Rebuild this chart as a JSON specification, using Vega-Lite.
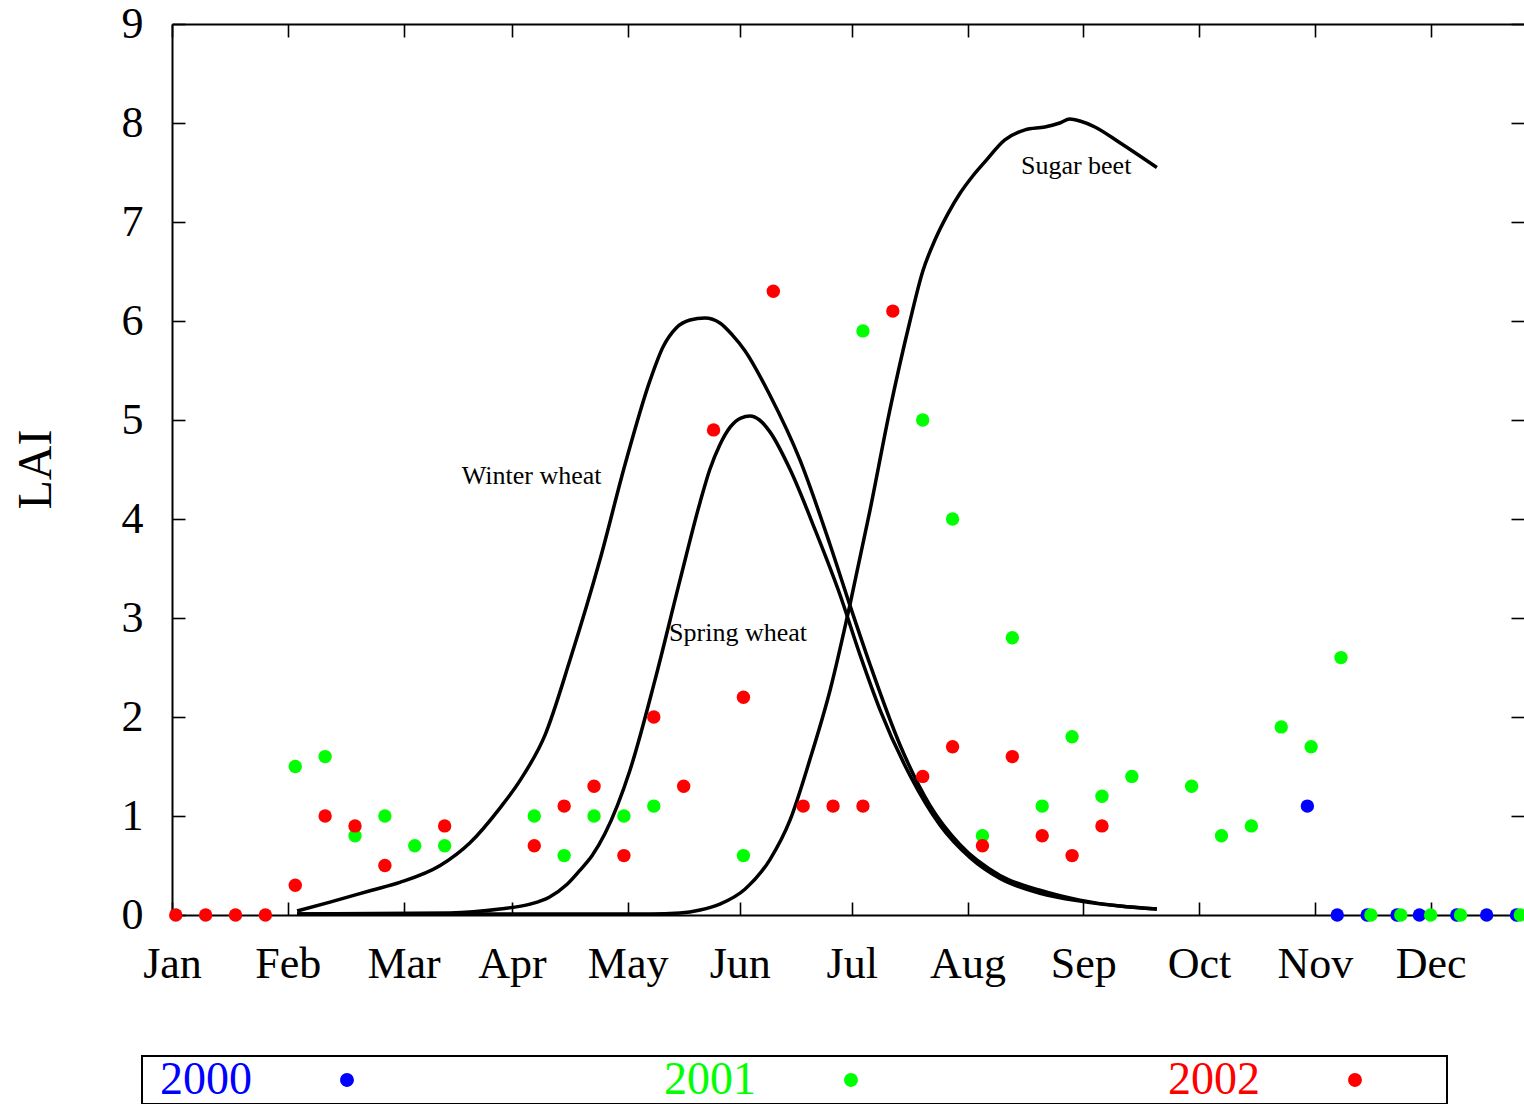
{
  "$schema": "https://vega.github.io/schema/vega-lite/v6.json",
  "autosize": {"type": "none"},
  "width": 1352,
  "height": 891,
  "padding": {"left": 172, "top": 24, "right": 0, "bottom": 189},
  "background": "white",
  "config": {
    "view": {"stroke": null},
    "font": "Liberation Serif",
    "axis": {"grid": false, "domainColor": "black", "domainWidth": 2, "tickColor": "black", "tickWidth": 1.6, "labelColor": "black", "titleColor": "black"},
    "legend": {"strokeWidth": 2}
  },
  "datasets": {
    "curves": [
      {"crop": "Winter wheat", "doy": 33.5, "lai": 0.04},
      {"crop": "Winter wheat", "doy": 42.3, "lai": 0.13},
      {"crop": "Winter wheat", "doy": 53.5, "lai": 0.25},
      {"crop": "Winter wheat", "doy": 61.0, "lai": 0.33},
      {"crop": "Winter wheat", "doy": 71.8, "lai": 0.5},
      {"crop": "Winter wheat", "doy": 79.8, "lai": 0.73},
      {"crop": "Winter wheat", "doy": 87.8, "lai": 1.08},
      {"crop": "Winter wheat", "doy": 93.2, "lai": 1.36},
      {"crop": "Winter wheat", "doy": 99.9, "lai": 1.82},
      {"crop": "Winter wheat", "doy": 106.6, "lai": 2.58},
      {"crop": "Winter wheat", "doy": 114.6, "lai": 3.59},
      {"crop": "Winter wheat", "doy": 121.3, "lai": 4.55},
      {"crop": "Winter wheat", "doy": 128.0, "lai": 5.4},
      {"crop": "Winter wheat", "doy": 131.5, "lai": 5.74},
      {"crop": "Winter wheat", "doy": 135.0, "lai": 5.93},
      {"crop": "Winter wheat", "doy": 138.7, "lai": 6.01},
      {"crop": "Winter wheat", "doy": 142.7, "lai": 6.03},
      {"crop": "Winter wheat", "doy": 146.7, "lai": 5.98},
      {"crop": "Winter wheat", "doy": 150.0, "lai": 5.86},
      {"crop": "Winter wheat", "doy": 153.4, "lai": 5.7},
      {"crop": "Winter wheat", "doy": 160.1, "lai": 5.25},
      {"crop": "Winter wheat", "doy": 168.1, "lai": 4.6},
      {"crop": "Winter wheat", "doy": 176.2, "lai": 3.74},
      {"crop": "Winter wheat", "doy": 181.5, "lai": 3.13},
      {"crop": "Winter wheat", "doy": 186.9, "lai": 2.53},
      {"crop": "Winter wheat", "doy": 194.9, "lai": 1.72},
      {"crop": "Winter wheat", "doy": 202.9, "lai": 1.11},
      {"crop": "Winter wheat", "doy": 211.0, "lai": 0.71},
      {"crop": "Winter wheat", "doy": 221.7, "lai": 0.4},
      {"crop": "Winter wheat", "doy": 232.4, "lai": 0.25},
      {"crop": "Winter wheat", "doy": 243.1, "lai": 0.15},
      {"crop": "Winter wheat", "doy": 253.8, "lai": 0.09},
      {"crop": "Winter wheat", "doy": 263.7, "lai": 0.06},
      {"crop": "Spring wheat", "doy": 33.5, "lai": 0.01},
      {"crop": "Spring wheat", "doy": 74.4, "lai": 0.02},
      {"crop": "Spring wheat", "doy": 87.8, "lai": 0.06},
      {"crop": "Spring wheat", "doy": 95.9, "lai": 0.11},
      {"crop": "Spring wheat", "doy": 101.0, "lai": 0.18},
      {"crop": "Spring wheat", "doy": 105.8, "lai": 0.31},
      {"crop": "Spring wheat", "doy": 109.2, "lai": 0.45},
      {"crop": "Spring wheat", "doy": 112.5, "lai": 0.6},
      {"crop": "Spring wheat", "doy": 115.9, "lai": 0.82},
      {"crop": "Spring wheat", "doy": 122.6, "lai": 1.46},
      {"crop": "Spring wheat", "doy": 129.3, "lai": 2.37},
      {"crop": "Spring wheat", "doy": 136.0, "lai": 3.38},
      {"crop": "Spring wheat", "doy": 141.4, "lai": 4.17},
      {"crop": "Spring wheat", "doy": 144.0, "lai": 4.5},
      {"crop": "Spring wheat", "doy": 146.7, "lai": 4.75},
      {"crop": "Spring wheat", "doy": 149.5, "lai": 4.93},
      {"crop": "Spring wheat", "doy": 152.3, "lai": 5.02},
      {"crop": "Spring wheat", "doy": 154.8, "lai": 5.04},
      {"crop": "Spring wheat", "doy": 157.3, "lai": 5.0},
      {"crop": "Spring wheat", "doy": 160.1, "lai": 4.88},
      {"crop": "Spring wheat", "doy": 165.5, "lai": 4.5},
      {"crop": "Spring wheat", "doy": 172.2, "lai": 3.89},
      {"crop": "Spring wheat", "doy": 178.9, "lai": 3.23},
      {"crop": "Spring wheat", "doy": 184.2, "lai": 2.63},
      {"crop": "Spring wheat", "doy": 189.6, "lai": 2.07},
      {"crop": "Spring wheat", "doy": 197.6, "lai": 1.41},
      {"crop": "Spring wheat", "doy": 205.6, "lai": 0.91},
      {"crop": "Spring wheat", "doy": 213.7, "lai": 0.58},
      {"crop": "Spring wheat", "doy": 221.7, "lai": 0.37},
      {"crop": "Spring wheat", "doy": 232.4, "lai": 0.22},
      {"crop": "Spring wheat", "doy": 243.1, "lai": 0.14},
      {"crop": "Spring wheat", "doy": 253.8, "lai": 0.09},
      {"crop": "Spring wheat", "doy": 263.7, "lai": 0.06},
      {"crop": "Sugar beet", "doy": 33.5, "lai": 0.01},
      {"crop": "Sugar beet", "doy": 128.0, "lai": 0.01},
      {"crop": "Sugar beet", "doy": 136.0, "lai": 0.02},
      {"crop": "Sugar beet", "doy": 141.4, "lai": 0.05},
      {"crop": "Sugar beet", "doy": 146.7, "lai": 0.11},
      {"crop": "Sugar beet", "doy": 153.4, "lai": 0.26},
      {"crop": "Sugar beet", "doy": 160.1, "lai": 0.56},
      {"crop": "Sugar beet", "doy": 165.5, "lai": 0.96},
      {"crop": "Sugar beet", "doy": 170.8, "lai": 1.57},
      {"crop": "Sugar beet", "doy": 176.2, "lai": 2.27},
      {"crop": "Sugar beet", "doy": 181.5, "lai": 3.13},
      {"crop": "Sugar beet", "doy": 186.9, "lai": 4.09},
      {"crop": "Sugar beet", "doy": 192.2, "lai": 5.1},
      {"crop": "Sugar beet", "doy": 197.6, "lai": 6.0},
      {"crop": "Sugar beet", "doy": 201.0, "lai": 6.5},
      {"crop": "Sugar beet", "doy": 204.3, "lai": 6.82},
      {"crop": "Sugar beet", "doy": 207.7, "lai": 7.08},
      {"crop": "Sugar beet", "doy": 211.0, "lai": 7.29},
      {"crop": "Sugar beet", "doy": 214.3, "lai": 7.46},
      {"crop": "Sugar beet", "doy": 217.7, "lai": 7.61},
      {"crop": "Sugar beet", "doy": 223.0, "lai": 7.83},
      {"crop": "Sugar beet", "doy": 228.4, "lai": 7.93},
      {"crop": "Sugar beet", "doy": 233.7, "lai": 7.96},
      {"crop": "Sugar beet", "doy": 237.7, "lai": 8.0},
      {"crop": "Sugar beet", "doy": 240.4, "lai": 8.04},
      {"crop": "Sugar beet", "doy": 243.1, "lai": 8.02},
      {"crop": "Sugar beet", "doy": 247.1, "lai": 7.96},
      {"crop": "Sugar beet", "doy": 253.8, "lai": 7.8},
      {"crop": "Sugar beet", "doy": 263.7, "lai": 7.55}
    ],
    "obs": [
      {"year": "2000", "doy": 304, "lai": 1.1},
      {"year": "2000", "doy": 312, "lai": 0},
      {"year": "2000", "doy": 320, "lai": 0},
      {"year": "2000", "doy": 328, "lai": 0},
      {"year": "2000", "doy": 334, "lai": 0},
      {"year": "2000", "doy": 344, "lai": 0},
      {"year": "2000", "doy": 352, "lai": 0},
      {"year": "2000", "doy": 360, "lai": 0},
      {"year": "2001", "doy": 33, "lai": 1.5},
      {"year": "2001", "doy": 41, "lai": 1.6},
      {"year": "2001", "doy": 49, "lai": 0.8},
      {"year": "2001", "doy": 57, "lai": 1.0},
      {"year": "2001", "doy": 65, "lai": 0.7},
      {"year": "2001", "doy": 73, "lai": 0.7},
      {"year": "2001", "doy": 97, "lai": 1.0},
      {"year": "2001", "doy": 105, "lai": 0.6},
      {"year": "2001", "doy": 113, "lai": 1.0},
      {"year": "2001", "doy": 121, "lai": 1.0},
      {"year": "2001", "doy": 129, "lai": 1.1},
      {"year": "2001", "doy": 153, "lai": 0.6},
      {"year": "2001", "doy": 185, "lai": 5.9},
      {"year": "2001", "doy": 201, "lai": 5.0},
      {"year": "2001", "doy": 209, "lai": 4.0},
      {"year": "2001", "doy": 217, "lai": 0.8},
      {"year": "2001", "doy": 225, "lai": 2.8},
      {"year": "2001", "doy": 233, "lai": 1.1},
      {"year": "2001", "doy": 241, "lai": 1.8},
      {"year": "2001", "doy": 249, "lai": 1.2},
      {"year": "2001", "doy": 257, "lai": 1.4},
      {"year": "2001", "doy": 273, "lai": 1.3},
      {"year": "2001", "doy": 281, "lai": 0.8},
      {"year": "2001", "doy": 289, "lai": 0.9},
      {"year": "2001", "doy": 297, "lai": 1.9},
      {"year": "2001", "doy": 305, "lai": 1.7},
      {"year": "2001", "doy": 313, "lai": 2.6},
      {"year": "2001", "doy": 321, "lai": 0},
      {"year": "2001", "doy": 329, "lai": 0},
      {"year": "2001", "doy": 337, "lai": 0},
      {"year": "2001", "doy": 345, "lai": 0},
      {"year": "2001", "doy": 361, "lai": 0},
      {"year": "2002", "doy": 1, "lai": 0},
      {"year": "2002", "doy": 9, "lai": 0},
      {"year": "2002", "doy": 17, "lai": 0},
      {"year": "2002", "doy": 25, "lai": 0},
      {"year": "2002", "doy": 33, "lai": 0.3},
      {"year": "2002", "doy": 41, "lai": 1.0},
      {"year": "2002", "doy": 49, "lai": 0.9},
      {"year": "2002", "doy": 57, "lai": 0.5},
      {"year": "2002", "doy": 73, "lai": 0.9},
      {"year": "2002", "doy": 97, "lai": 0.7},
      {"year": "2002", "doy": 105, "lai": 1.1},
      {"year": "2002", "doy": 113, "lai": 1.3},
      {"year": "2002", "doy": 121, "lai": 0.6},
      {"year": "2002", "doy": 129, "lai": 2.0},
      {"year": "2002", "doy": 137, "lai": 1.3},
      {"year": "2002", "doy": 145, "lai": 4.9},
      {"year": "2002", "doy": 153, "lai": 2.2},
      {"year": "2002", "doy": 161, "lai": 6.3},
      {"year": "2002", "doy": 169, "lai": 1.1},
      {"year": "2002", "doy": 177, "lai": 1.1},
      {"year": "2002", "doy": 185, "lai": 1.1},
      {"year": "2002", "doy": 193, "lai": 6.1},
      {"year": "2002", "doy": 201, "lai": 1.4},
      {"year": "2002", "doy": 209, "lai": 1.7},
      {"year": "2002", "doy": 217, "lai": 0.7},
      {"year": "2002", "doy": 225, "lai": 1.6},
      {"year": "2002", "doy": 233, "lai": 0.8},
      {"year": "2002", "doy": 241, "lai": 0.6},
      {"year": "2002", "doy": 249, "lai": 0.9}
    ],
    "notes": [
      {"text": "Winter wheat", "doy": 77.6, "lai": 4.43},
      {"text": "Spring wheat", "doy": 133.1, "lai": 2.85},
      {"text": "Sugar beet", "doy": 227.3, "lai": 7.57}
    ]
  },
  "resolve": {"axis": {"x": "independent", "y": "independent"}},
  "layer": [
    {
      "data": {"name": "curves"},
      "mark": {"type": "line", "color": "black", "strokeWidth": 3.5, "interpolate": "monotone"},
      "encoding": {
        "x": {
          "field": "doy", "type": "quantitative",
          "scale": {"domain": [0, 362], "nice": false, "zero": false},
          "axis": {
            "orient": "bottom", "title": null,
            "values": [0, 31, 62, 91, 122, 152, 182, 213, 244, 275, 306, 337],
            "labelExpr": "['Jan','Feb','Mar','Apr','May','Jun','Jul','Aug','Sep','Oct','Nov','Dec'][indexof([0,31,62,91,122,152,182,213,244,275,306,337], datum.value)]",
            "tickSize": -13, "labelPadding": 40, "labelFont": "Liberation Serif", "labelFontSize": 44,
            "labelFlush": false, "labelOverlap": false
          }
        },
        "y": {
          "field": "lai", "type": "quantitative",
          "scale": {"domain": [0, 9], "nice": false},
          "axis": {
            "orient": "left", "title": "LAI",
            "values": [0, 1, 2, 3, 4, 5, 6, 7, 8, 9],
            "tickSize": -13, "labelPadding": 42, "labelFont": "Liberation Serif", "labelFontSize": 44,
            "labelFlush": false, "labelOverlap": false,
            "titleFont": "Liberation Serif", "titleFontSize": 48, "titleFontWeight": "normal",
            "titleAngle": -90, "titleBaseline": "middle", "titleAlign": "center",
            "titleX": -136, "titleY": 445
          }
        },
        "detail": {"field": "crop"}
      }
    },
    {
      "data": {"name": "obs"},
      "mark": {"type": "point", "filled": true, "opacity": 1, "size": 180},
      "encoding": {
        "x": {
          "field": "doy", "type": "quantitative",
          "axis": {"orient": "top", "title": null, "labels": false, "tickSize": -13,
                   "values": [0, 31, 62, 91, 122, 152, 182, 213, 244, 275, 306, 337]}
        },
        "y": {
          "field": "lai", "type": "quantitative",
          "axis": {"orient": "right", "title": null, "labels": false, "tickSize": -13, "domain": false,
                   "values": [0, 1, 2, 3, 4, 5, 6, 7, 8, 9]}
        },
        "color": {
          "field": "year", "type": "nominal",
          "scale": {"domain": ["2000", "2001", "2002"], "range": ["#0000ff", "#00ff00", "#ff0000"]},
          "legend": {
            "title": null, "orient": "none", "legendX": -30, "legendY": 1032,
            "direction": "horizontal", "columns": 3, "columnPadding": 208,
            "padding": 1, "strokeColor": "black",
            "labelFont": "Liberation Serif", "labelFontSize": 46, "labelLimit": 1000,
            "labelColor": {"expr": "datum.value === '2000' ? '#0000ff' : datum.value === '2001' ? '#00ff00' : '#ff0000'"},
            "symbolType": "M-1,0A1,1,0,1,1,1,0A1,1,0,1,1,-1,0ZM-29.6,0L13.2,0",
            "symbolSize": 190, "symbolStrokeWidth": 0,
            "symbolOffset": 181, "labelOffset": -210
          }
        }
      }
    },
    {
      "data": {"name": "notes"},
      "mark": {"type": "text", "align": "left", "baseline": "middle", "font": "Liberation Serif", "fontSize": 26, "color": "black"},
      "encoding": {
        "x": {"field": "doy", "type": "quantitative", "axis": null},
        "y": {"field": "lai", "type": "quantitative", "axis": null},
        "text": {"field": "text"}
      }
    }
  ]
}
